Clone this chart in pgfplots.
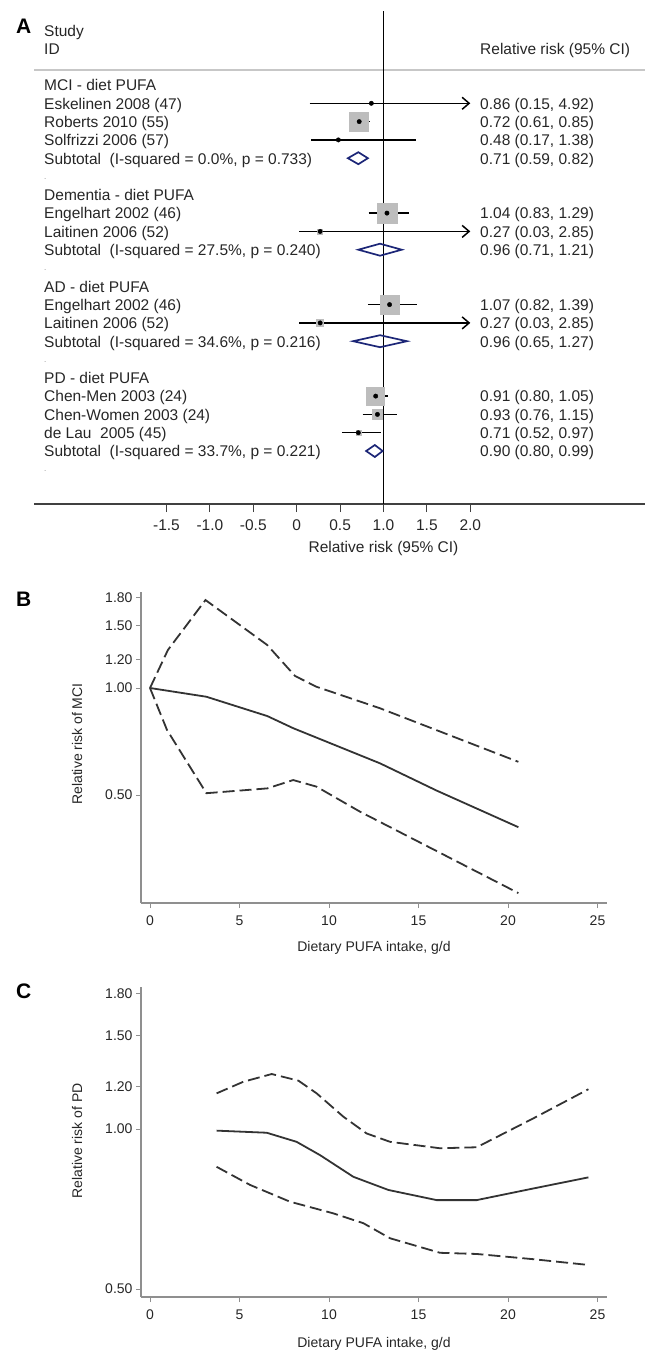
\documentclass[border=0pt]{standalone}
\usepackage{fontspec}
\setmainfont{Liberation Sans}
\usepackage{pgfplots}
\pgfplotsset{compat=1.18}
\usetikzlibrary{arrows.meta}
\definecolor{txt}{HTML}{262626}
\definecolor{dia}{HTML}{1C2677}
\definecolor{boxg}{HTML}{BDBDBD}
\definecolor{axg}{HTML}{8F8F8F}
\definecolor{crv}{HTML}{333333}
\newcommand\fA{\fontsize{15.5}{18}\selectfont}
\newcommand\fB{\fontsize{14}{16}\selectfont}
\begin{document}
\begin{tikzpicture}[x=1pt,y=1pt]
\useasboundingbox (0,0) rectangle (650,-1352);
% ---------------- Panel A ----------------
\begin{axis}[at={(34pt,-504pt)}, anchor=south west, scale only axis, width=611pt, height=493pt,
  xmin=-3.0265, xmax=4.0127, ymin=-504, ymax=-11, clip=false,
  axis x line=bottom, axis y line=none, axis line style={-, draw=black!75, line width=1.3pt},
  xtick={-1.5,-1,-0.5,0,0.5,1,1.5,2}, xticklabels={-1.5,-1.0,-0.5,0,0.5,1.0,1.5,2.0},
  ytick=\empty, tick align=outside, major tick length=8pt, xtick style={black!75, line width=1pt},
  xticklabel style={font=\fA, text=txt, yshift=-4pt}]
\addplot[black!22, line width=1.2pt] coordinates {(-3.0265,-70) (4.0127,-70)};
\addplot[black, line width=1.7pt] coordinates {(1,-11) (1,-504)};
% weight boxes
\addplot[only marks, mark=square*, boxg, mark options={draw=none, fill=boxg}, mark size=9.5pt] coordinates {(0.72,-121.6)};
\addplot[only marks, mark=square*, boxg, mark options={draw=none, fill=boxg}, mark size=10pt] coordinates {(1.04,-213.1)};
\addplot[only marks, mark=square*, boxg, mark options={draw=none, fill=boxg}, mark size=9.5pt] coordinates {(1.07,-304.6)};
\addplot[only marks, mark=square*, boxg, mark options={draw=none, fill=boxg}, mark size=9pt] coordinates {(0.91,-396.1)};
\addplot[only marks, mark=square*, boxg, mark options={draw=none, fill=boxg}, mark size=5pt] coordinates {(0.93,-414.4)};
\addplot[only marks, mark=square*, boxg, mark options={draw=none, fill=boxg}, mark size=3.5pt] coordinates {(0.27,-322.9)};
\addplot[only marks, mark=square*, boxg, mark options={draw=none, fill=boxg}, mark size=2.5pt] coordinates {(0.27,-231.4) (0.71,-432.7)};
% confidence intervals
\addplot[black, line width=1.5pt, -{Straight Barb[length=7pt,width=12pt,line width=1.5pt]}] coordinates {(0.15,-103.3) (2.0,-103.3)};
\addplot[black, line width=1.5pt] coordinates {(0.61,-121.6) (0.85,-121.6)};
\addplot[black, line width=1.5pt] coordinates {(0.17,-139.9) (1.38,-139.9)};
\addplot[black, line width=1.5pt] coordinates {(0.83,-213.1) (1.29,-213.1)};
\addplot[black, line width=1.5pt, -{Straight Barb[length=7pt,width=12pt,line width=1.5pt]}] coordinates {(0.03,-231.4) (2.0,-231.4)};
\addplot[black, line width=1.5pt] coordinates {(0.82,-304.6) (1.39,-304.6)};
\addplot[black, line width=1.5pt, -{Straight Barb[length=7pt,width=12pt,line width=1.5pt]}] coordinates {(0.03,-322.9) (2.0,-322.9)};
\addplot[black, line width=1.5pt] coordinates {(0.80,-396.1) (1.05,-396.1)};
\addplot[black, line width=1.5pt] coordinates {(0.76,-414.4) (1.15,-414.4)};
\addplot[black, line width=1.5pt] coordinates {(0.52,-432.7) (0.97,-432.7)};
% point estimates
\addplot[only marks, mark=*, mark size=2.2pt, black] coordinates {
 (0.86,-103.3) (0.72,-121.6) (0.48,-139.9) (1.04,-213.1) (0.27,-231.4)
 (1.07,-304.6) (0.27,-322.9) (0.91,-396.1) (0.93,-414.4) (0.71,-432.7)};
% subtotal diamonds
\addplot[dia, line width=1.7pt, line join=miter] coordinates {(0.59,-158.2) (0.71,-152.2) (0.82,-158.2) (0.71,-164.2) (0.59,-158.2) (0.71,-152.2)};
\addplot[dia, line width=1.7pt, line join=miter] coordinates {(0.71,-249.7) (0.96,-243.7) (1.21,-249.7) (0.96,-255.7) (0.71,-249.7) (0.96,-243.7)};
\addplot[dia, line width=1.7pt, line join=miter] coordinates {(0.65,-341.2) (0.96,-335.2) (1.27,-341.2) (0.96,-347.2) (0.65,-341.2) (0.96,-335.2)};
\addplot[dia, line width=1.7pt, line join=miter] coordinates {(0.80,-451.0) (0.90,-445.0) (0.99,-451.0) (0.90,-457.0) (0.80,-451.0) (0.90,-445.0)};
\end{axis}
% texts panel A
\begin{scope}[every node/.style={inner sep=0pt, text=txt, font=\fA}]
\node[anchor=base west, font=\fontsize{21}{24}\selectfont\bfseries, text=black] at (16,-33.3) {A};
\node[anchor=base west] at (44,-36) {Study};
\node[anchor=base west] at (44,-54) {ID};
\node[anchor=base west] at (480,-54) {Relative risk (95\% CI)};
\node[anchor=base west] at (44,-90.8) {MCI - diet PUFA};
\node[anchor=base west] at (44,-109.1) {Eskelinen 2008 (47)};
\node[anchor=base west] at (44,-127.4) {Roberts 2010 (55)};
\node[anchor=base west] at (44,-145.7) {Solfrizzi 2006 (57)};
\node[anchor=base west] at (44,-164.0) {Subtotal~~(I-squared = 0.0\%, p = 0.733)};
\node[anchor=base west] at (44,-200.6) {Dementia - diet PUFA};
\node[anchor=base west] at (44,-218.9) {Engelhart 2002 (46)};
\node[anchor=base west] at (44,-237.2) {Laitinen 2006 (52)};
\node[anchor=base west] at (44,-255.5) {Subtotal~~(I-squared = 27.5\%, p = 0.240)};
\node[anchor=base west] at (44,-292.1) {AD - diet PUFA};
\node[anchor=base west] at (44,-310.4) {Engelhart 2002 (46)};
\node[anchor=base west] at (44,-328.7) {Laitinen 2006 (52)};
\node[anchor=base west] at (44,-347.0) {Subtotal~~(I-squared = 34.6\%, p = 0.216)};
\node[anchor=base west] at (44,-383.6) {PD - diet PUFA};
\node[anchor=base west] at (44,-401.9) {Chen-Men 2003 (24)};
\node[anchor=base west] at (44,-420.2) {Chen-Women 2003 (24)};
\node[anchor=base west] at (44,-438.5) {de Lau~~2005 (45)};
\node[anchor=base west] at (44,-456.8) {Subtotal~~(I-squared = 33.7\%, p = 0.221)};
\node[anchor=base west, font=\fontsize{8}{9}\selectfont, text=black!45] at (44,-179) {.};
\node[anchor=base west, font=\fontsize{8}{9}\selectfont, text=black!45] at (44,-270.5) {.};
\node[anchor=base west, font=\fontsize{8}{9}\selectfont, text=black!45] at (44,-362) {.};
\node[anchor=base west, font=\fontsize{8}{9}\selectfont, text=black!45] at (44,-471.8) {.};
\node[anchor=base west] at (480,-109.1) {0.86 (0.15, 4.92)};
\node[anchor=base west] at (480,-127.4) {0.72 (0.61, 0.85)};
\node[anchor=base west] at (480,-145.7) {0.48 (0.17, 1.38)};
\node[anchor=base west] at (480,-164.0) {0.71 (0.59, 0.82)};
\node[anchor=base west] at (480,-218.9) {1.04 (0.83, 1.29)};
\node[anchor=base west] at (480,-237.2) {0.27 (0.03, 2.85)};
\node[anchor=base west] at (480,-255.5) {0.96 (0.71, 1.21)};
\node[anchor=base west] at (480,-310.4) {1.07 (0.82, 1.39)};
\node[anchor=base west] at (480,-328.7) {0.27 (0.03, 2.85)};
\node[anchor=base west] at (480,-347.0) {0.96 (0.65, 1.27)};
\node[anchor=base west] at (480,-401.9) {0.91 (0.80, 1.05)};
\node[anchor=base west] at (480,-420.2) {0.93 (0.76, 1.15)};
\node[anchor=base west] at (480,-438.5) {0.71 (0.52, 0.97)};
\node[anchor=base west] at (480,-456.8) {0.90 (0.80, 0.99)};
\node[anchor=base] at (383.5,-552) {Relative risk (95\% CI)};
\end{scope}
% ---------------- Panel B ----------------
\begin{axis}[ymode=log, at={(141pt,-903pt)}, anchor=south west, scale only axis,
  width=466pt, height=311pt, ymin=0.2485, ymax=1.862, clip=false,
  xmin=-0.503, xmax=25.53,
  axis lines=left, axis line style={-, draw=axg, line width=1.3pt},
  xtick={0,5,10,15,20,25}, ytick={0.5,1,1.2,1.5,1.8}, yticklabels={0.50,1.00,1.20,1.50,1.80},
  yminorticks=false, tick align=outside, major tick length=5pt,
  tick style={axg, line width=1pt},
  ticklabel style={font=\fB, text=txt},
  xticklabel style={yshift=-4pt},
  /pgf/number format/assume math mode=true]
\addplot[crv, line width=1.8pt] table {
x y
0 1.0
3.15 0.945
6.55 0.834
8.0 0.771
12.85 0.614
16.0 0.515
20.58 0.406
};
\addplot[crv, line width=1.8pt, dash pattern=on 12pt off 5pt] table {
x y
0 1.0
1.0 1.279
3.1 1.768
6.55 1.321
8.1 1.081
9.3 1.008
12.85 0.877
20.58 0.620
};
\addplot[crv, line width=1.8pt, dash pattern=on 12pt off 5pt] table {
x y
0 1.0
0.95 0.762
3.15 0.506
6.55 0.522
8.0 0.551
9.3 0.528
11.73 0.449
20.58 0.265
};
\end{axis}
% ---------------- Panel C ----------------
\begin{axis}[ymode=log, at={(141pt,-1297pt)}, anchor=south west, scale only axis,
  width=466pt, height=310pt, ymin=0.483, ymax=1.850, clip=false,
  xmin=-0.503, xmax=25.53,
  axis lines=left, axis line style={-, draw=axg, line width=1.3pt},
  xtick={0,5,10,15,20,25}, ytick={0.5,1,1.2,1.5,1.8}, yticklabels={0.50,1.00,1.20,1.50,1.80},
  yminorticks=false, tick align=outside, major tick length=5pt,
  tick style={axg, line width=1pt},
  ticklabel style={font=\fB, text=txt},
  xticklabel style={yshift=-4pt},
  /pgf/number format/assume math mode=true]
\addplot[crv, line width=1.8pt] table {
x y
3.72 0.993
6.52 0.984
8.19 0.946
9.50 0.893
11.36 0.813
13.32 0.768
16.01 0.735
18.25 0.735
21.41 0.773
24.49 0.811
};
\addplot[crv, line width=1.8pt, dash pattern=on 12pt off 5pt] table {
x y
3.72 1.167
5.21 1.227
6.80 1.269
8.29 1.233
9.31 1.167
10.80 1.055
12.10 0.981
13.41 0.946
16.20 0.920
18.25 0.924
21.41 1.047
24.49 1.188
};
\addplot[crv, line width=1.8pt, dash pattern=on 12pt off 5pt] table {
x y
3.72 0.849
5.59 0.785
7.82 0.730
10.24 0.694
11.92 0.665
13.41 0.623
16.20 0.585
18.25 0.582
21.41 0.569
24.49 0.555
};
\end{axis}
% texts panels B and C
\begin{scope}[every node/.style={inner sep=0pt, text=txt, font=\fB}]
\node[anchor=base west, font=\fontsize{21}{24}\selectfont\bfseries, text=black] at (16,-606) {B};
\node[anchor=base west, font=\fontsize{21}{24}\selectfont\bfseries, text=black] at (16,-998) {C};
\node[anchor=base] at (374,-951.5) {Dietary PUFA intake, g/d};
\node[anchor=base] at (374,-1347.3) {Dietary PUFA intake, g/d};
\node[rotate=90, anchor=center] at (77,-744) {Relative risk of MCI};
\node[rotate=90, anchor=center] at (77,-1141) {Relative risk of PD};
\end{scope}
\end{tikzpicture}
\end{document}
